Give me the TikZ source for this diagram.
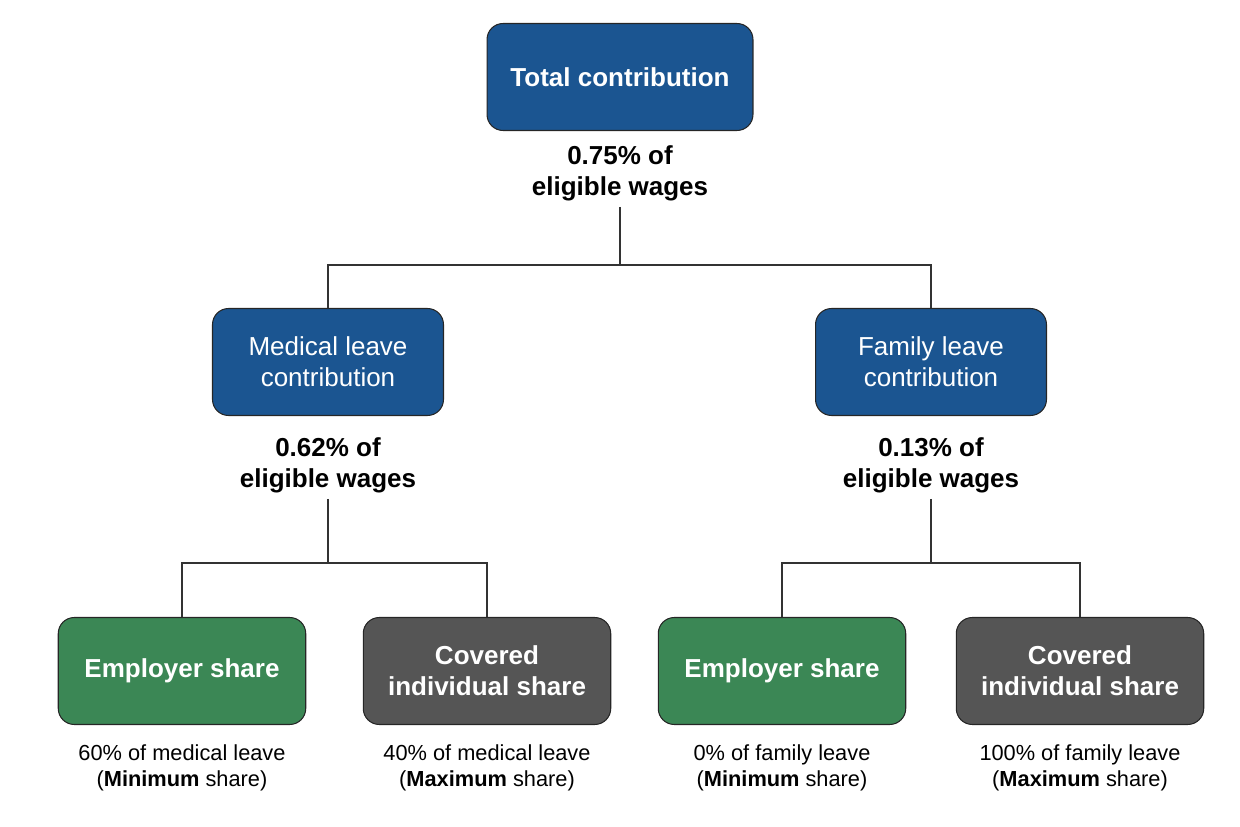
\documentclass[tikz,border=0pt]{standalone}
\usepackage{fontspec}
\setmainfont{Liberation Sans}
\usetikzlibrary{calc}

\definecolor{boxblue}{HTML}{1B5591}
\definecolor{boxgreen}{HTML}{3B8755}
\definecolor{boxgrey}{HTML}{555555}

\begin{document}
\begin{tikzpicture}[x=0.02cm, y=-0.02cm,
		box/.style = {draw = black!85, line width = 0.6pt, rounded corners = 0.32cm, minimum height = 2.14cm, align = center, text = white, font = \fontsize{14.8}{17.6}\selectfont},
		boldbox/.style = {box, font = \fontsize{14.8}{17.6}\selectfont\bfseries},
		pct/.style = {align = center, font = \fontsize{14.8}{17.6}\selectfont\bfseries},
		note/.style = {align = center, font = \fontsize{12.4}{14.7}\selectfont},
		link/.style = {draw = black!80, line width = 0.6pt}]
		\def\wtop{5.32cm};
		\def\wmid{4.62cm};
		\def\wlow{4.95cm};

		\useasboundingbox (0,0) rectangle (1240,827);

		\coordinate (junction top) at (620,265);
		\coordinate (junction medical) at (328,563);
		\coordinate (junction family) at (931,563);

		% top level
		\node (total) at (620,77) [boldbox, fill = boxblue, minimum width = \wtop] {Total contribution};
		\node (total pct) at (620,173) [pct] {0.75\% of\\eligible wages};

		% middle level
		\node (medical) at (328,362) [box, fill = boxblue, minimum width = \wmid] {Medical leave\\contribution};
		\node (family) at (931,362) [box, fill = boxblue, minimum width = \wmid] {Family leave\\contribution};
		\node (medical pct) at (328,465) [pct] {0.62\% of\\eligible wages};
		\node (family pct) at (931,465) [pct] {0.13\% of\\eligible wages};

		% bottom level
		\node (medical employer) at (182,671) [boldbox, fill = boxgreen, minimum width = \wlow] {Employer share};
		\node (medical covered) at (487,671) [boldbox, fill = boxgrey, minimum width = \wlow] {Covered\\individual share};
		\node (family employer) at (782,671) [boldbox, fill = boxgreen, minimum width = \wlow] {Employer share};
		\node (family covered) at (1080,671) [boldbox, fill = boxgrey, minimum width = \wlow] {Covered\\individual share};

		\node (medical employer note) at (182,768) [note] {60\% of medical leave\\(\textbf{Minimum} share)};
		\node (medical covered note) at (487,768) [note] {40\% of medical leave\\(\textbf{Maximum} share)};
		\node (family employer note) at (782,768) [note] {0\% of family leave\\(\textbf{Minimum} share)};
		\node (family covered note) at (1080,768) [note] {100\% of family leave\\(\textbf{Maximum} share)};

		% connectors
		\draw [link] (total pct.south) -- (junction top);
		\draw [link] (medical.north) |- (junction top) -| (family.north);

		\draw [link] (medical pct.south) -- (junction medical);
		\draw [link] (medical employer.north) |- (junction medical) -| (medical covered.north);

		\draw [link] (family pct.south) -- (junction family);
		\draw [link] (family employer.north) |- (junction family) -| (family covered.north);
	\end{tikzpicture}
\end{document}
